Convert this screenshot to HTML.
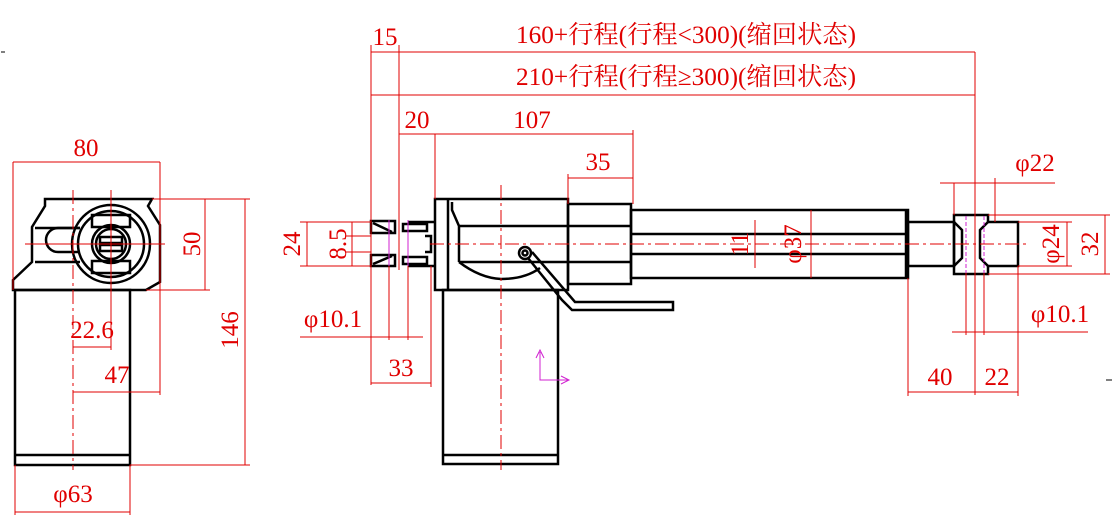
<!DOCTYPE html>
<html><head><meta charset="utf-8"><style>
html,body{margin:0;padding:0;background:#fff;}
svg{display:block}
text{font-family:"Liberation Serif","Noto Serif CJK SC",serif;fill:#e00000;font-size:25px;}
.k{stroke:#000;stroke-width:2.5;fill:none}
.r{stroke:#e00000;stroke-width:1;fill:none}
.c{stroke:#e00000;stroke-width:1;fill:none;stroke-dasharray:14,4,3,4}
.m{stroke:#d020d0;stroke-width:1;fill:none}
</style></head><body>
<svg width="1112" height="523" viewBox="0 0 1112 523" xmlns="http://www.w3.org/2000/svg">
<!-- LEFT VIEW -->
<path class="k" d="M45 199 L152 199 L148 206 L160 225 L160 282 L146 290 L13 290 L13 280 L32 262 L32 227 L45 206 Z"/>
<rect class="k" x="15" y="290" width="115" height="175"/>
<line class="k" x1="15" y1="455" x2="130" y2="455"/>
<path class="k" d="M80 228 L58 228 A8 8 0 0 0 58 252 L80 252" stroke-width="1.5"/>
<path class="k" d="M35 228 L80 228 M35 262 L80 262" stroke-width="1.5"/>
<circle class="k" cx="111" cy="244" r="39" stroke-width="1.5"/>
<circle class="k" cx="111" cy="244" r="33" stroke-width="1.5"/>
<circle class="k" cx="111" cy="244" r="19" stroke-width="1.5"/>
<circle class="k" cx="111" cy="244" r="15" stroke-width="1.5"/>
<rect class="k" x="92" y="215" width="38" height="12" stroke-width="1.5"/>
<rect class="k" x="92" y="261" width="38" height="12" stroke-width="1.5"/>
<rect class="k" x="100" y="237" width="22" height="6" stroke-width="1.5"/>
<rect class="k" x="100" y="245" width="22" height="6" stroke-width="1.5"/>
<line class="c" x1="73" y1="190" x2="73" y2="470"/>
<line class="r" x1="111" y1="190" x2="111" y2="350"/>
<line class="r" x1="25" y1="244" x2="165" y2="244"/>
<!-- left dims -->
<line class="r" x1="13" y1="162" x2="160" y2="162"/>
<line class="r" x1="13" y1="162" x2="13" y2="290"/>
<line class="r" x1="160" y1="162" x2="160" y2="395"/>
<text x="86" y="156" text-anchor="middle">80</text>
<line class="r" x1="152" y1="199" x2="250" y2="199"/>
<line class="r" x1="146" y1="290" x2="210" y2="290"/>
<line class="r" x1="130" y1="465" x2="250" y2="465"/>
<line class="r" x1="205" y1="199" x2="205" y2="290"/>
<text transform="translate(200,244) rotate(-90)" text-anchor="middle">50</text>
<line class="r" x1="245" y1="199" x2="245" y2="465"/>
<text transform="translate(238,330) rotate(-90)" text-anchor="middle">146</text>
<line class="r" x1="73" y1="347" x2="111" y2="347"/>
<text x="92" y="338" text-anchor="middle">22.6</text>
<line class="r" x1="73" y1="392" x2="160" y2="392"/>
<text x="117" y="383" text-anchor="middle">47</text>
<line class="r" x1="15" y1="465" x2="15" y2="515"/>
<line class="r" x1="130" y1="465" x2="130" y2="515"/>
<line class="r" x1="15" y1="512" x2="130" y2="512"/>
<text x="73" y="502" text-anchor="middle">φ63</text>
<!-- MIDDLE VIEW -->
<rect class="k" x="435" y="199" width="133" height="91"/>
<line class="k" x1="448" y1="199" x2="448" y2="290"/>
<path class="k" d="M452 202 L452 210 L459 226 L459 262" stroke-width="2"/>
<line class="k" x1="459" y1="226" x2="568" y2="226" stroke-width="2"/>
<line class="k" x1="459" y1="262" x2="568" y2="262" stroke-width="2"/>
<path class="k" d="M459 262 Q480 278 501 279 Q525 279 540 268" stroke-width="1.5"/>
<rect class="k" x="443" y="290" width="115" height="174"/>
<line class="k" x1="443" y1="455" x2="558" y2="455"/>
<rect class="k" x="568" y="204" width="63" height="80"/>
<line class="k" x1="568" y1="226" x2="631" y2="226" stroke-width="2"/>
<line class="k" x1="568" y1="262" x2="631" y2="262" stroke-width="2"/>
<rect class="k" x="631" y="210" width="277" height="68"/>
<line class="k" x1="631" y1="234" x2="908" y2="234" stroke-width="2"/>
<line class="k" x1="631" y1="254" x2="908" y2="254" stroke-width="2"/>
<line class="k" x1="906" y1="210" x2="906" y2="278" stroke-width="1.5"/>
<!-- cable -->
<circle class="k" cx="525" cy="253" r="6" stroke-width="1.5"/>
<circle class="k" cx="525" cy="253" r="2.5" stroke-width="1"/>
<path class="k" d="M528 258 L562 300 L572 310 L673 310 L673 302 L575 302 L532 252" stroke-width="1.8"/>
<!-- left rod end -->
<path class="k" d="M371 221 L395 221 L395 233 L371 233 Z M371 255 L395 255 L395 266 L371 266 Z" stroke-width="2"/>
<path class="k" d="M373 223 L392 232 M373 264 L392 256" stroke-width="1.5"/>
<path class="k" d="M408 222 L435 222 M408 266 L435 266" stroke-width="2"/>
<rect class="k" x="403" y="224" width="24" height="7" stroke-width="1.5"/>
<rect class="k" x="403" y="257" width="24" height="7" stroke-width="1.5"/>
<path class="k" d="M425 236 L431 236 L431 252 L425 252" stroke-width="2"/>
<line class="m" x1="389" y1="220" x2="389" y2="268"/>
<line class="m" x1="408" y1="220" x2="408" y2="268"/>
<!-- right rod and end -->
<rect class="k" x="908" y="222" width="46" height="44"/>
<path class="k" d="M954 215 L988 215 L988 222 L1018 222 L1018 266 L988 266 L988 274 L954 274 Z"/>
<path class="k" d="M954 222 L962 230 L962 258 L954 266 M988 222 L980 230 L980 258 L988 266" stroke-width="1.5"/>
<line class="m" x1="966" y1="216" x2="966" y2="273" stroke-dasharray="4,2"/>
<line class="m" x1="984" y1="216" x2="984" y2="273" stroke-dasharray="4,2"/>
<!-- center lines -->
<line class="c" x1="430" y1="244" x2="1030" y2="244"/>
<line class="c" x1="501" y1="185" x2="501" y2="470"/>
<!-- UCS -->
<path class="m" d="M540 352 L540 380 L568 380 M536 358 L540 350 L544 358 M561 376 L569 380 L561 384"/>
<!-- top dims -->
<line class="r" x1="371" y1="52" x2="975" y2="52"/>
<line class="r" x1="371" y1="95" x2="975" y2="95"/>
<line class="r" x1="371" y1="45" x2="371" y2="385"/>
<line class="r" x1="399" y1="45" x2="399" y2="270"/>
<line class="r" x1="975" y1="52" x2="975" y2="395"/>
<text x="385" y="45" text-anchor="middle">15</text>
<text x="516" y="43" textLength="340" lengthAdjust="spacingAndGlyphs">160+行程(行程&lt;300)(缩回状态)</text>
<text x="516" y="85" textLength="340" lengthAdjust="spacingAndGlyphs">210+行程(行程≥300)(缩回状态)</text>
<line class="r" x1="399" y1="134" x2="633" y2="134"/>
<line class="r" x1="435" y1="134" x2="435" y2="199"/>
<line class="r" x1="633" y1="130" x2="633" y2="204"/>
<text x="417" y="128" text-anchor="middle">20</text>
<text x="532" y="128" text-anchor="middle">107</text>
<line class="r" x1="568" y1="178" x2="633" y2="178"/>
<line class="r" x1="568" y1="174" x2="568" y2="204"/>
<text x="598" y="170" text-anchor="middle">35</text>
<!-- left dims middle -->
<line class="r" x1="300" y1="222" x2="371" y2="222"/>
<line class="r" x1="300" y1="266" x2="371" y2="266"/>
<line class="r" x1="307" y1="222" x2="307" y2="266"/>
<text transform="translate(300,244) rotate(-90)" text-anchor="middle">24</text>
<line class="r" x1="345" y1="236" x2="371" y2="236"/>
<line class="r" x1="345" y1="252" x2="371" y2="252"/>
<line class="r" x1="352" y1="222" x2="352" y2="266"/>
<text transform="translate(346,244) rotate(-90)" text-anchor="middle">8.5</text>
<line class="r" x1="389" y1="266" x2="389" y2="340"/>
<line class="r" x1="408" y1="266" x2="408" y2="340"/>
<line class="r" x1="300" y1="337" x2="423" y2="337"/>
<text x="333" y="327" text-anchor="middle">φ10.1</text>
<line class="r" x1="431" y1="266" x2="431" y2="387"/>
<line class="r" x1="371" y1="383" x2="431" y2="383"/>
<text x="401" y="376" text-anchor="middle">33</text>
<!-- tube dims -->
<line class="r" x1="755" y1="220" x2="755" y2="268"/>
<text transform="translate(748,244) rotate(-90)" text-anchor="middle">11</text>
<line class="r" x1="811" y1="210" x2="811" y2="278"/>
<text transform="translate(801,244) rotate(-90)" text-anchor="middle">φ37</text>
<!-- right dims -->
<line class="r" x1="908" y1="278" x2="908" y2="396"/>
<line class="r" x1="1018" y1="266" x2="1018" y2="396"/>
<line class="r" x1="908" y1="392" x2="1018" y2="392"/>
<text x="940" y="385" text-anchor="middle">40</text>
<text x="997" y="385" text-anchor="middle">22</text>
<line class="r" x1="954" y1="183" x2="954" y2="215"/>
<line class="r" x1="995" y1="178" x2="995" y2="222"/>
<line class="r" x1="940" y1="183" x2="1055" y2="183"/>
<text x="1035" y="171" text-anchor="middle">φ22</text>
<line class="r" x1="1018" y1="222" x2="1072" y2="222"/>
<line class="r" x1="1018" y1="266" x2="1072" y2="266"/>
<line class="r" x1="1067" y1="222" x2="1067" y2="266"/>
<text transform="translate(1059,244) rotate(-90)" text-anchor="middle">φ24</text>
<line class="r" x1="988" y1="215" x2="1110" y2="215"/>
<line class="r" x1="988" y1="274" x2="1110" y2="274"/>
<line class="r" x1="1105" y1="215" x2="1105" y2="274"/>
<text transform="translate(1098,244) rotate(-90)" text-anchor="middle">32</text>
<line class="r" x1="966" y1="273" x2="966" y2="335"/>
<line class="r" x1="984" y1="273" x2="984" y2="335"/>
<line class="r" x1="952" y1="332" x2="1088" y2="332"/>
<text x="1060" y="322" text-anchor="middle">φ10.1</text>
<line x1="1" y1="52" x2="5" y2="52" stroke="#000"/>
<line x1="1106" y1="380" x2="1112" y2="380" stroke="#000"/>
</svg>
</body></html>
